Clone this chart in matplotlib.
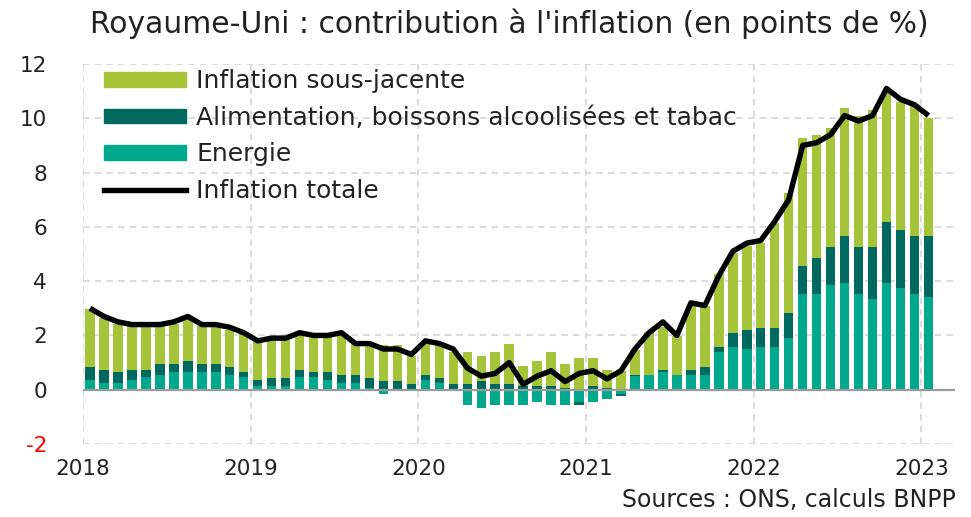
#!/usr/bin/env python3
"""
Royaume-Uni : contribution à l'inflation (en points de %)

Stacked monthly contributions (energie, alimentation, sous-jacente) with
total CPI inflation drawn on top, Jan 2018 - Jan 2023.
"""

from __future__ import annotations

import matplotlib
matplotlib.use("Agg")
import matplotlib.pyplot as plt
import numpy as np
from matplotlib.patches import Patch
from matplotlib.lines import Line2D

# --- data (points de %), one value per month from Jan 2018 to Jan 2023 ---
energie = [
    0.37, 0.26, 0.26, 0.37, 0.46, 0.56, 0.66, 0.66, 0.66, 0.66, 0.55, 0.46,
    0.13, 0.13, 0.13, 0.46, 0.46, 0.34, 0.24, 0.24, 0.06, -0.15, -0.05, -0.05,
    0.37, 0.24, 0.00, -0.55, -0.66, -0.55, -0.55, -0.55, -0.45, -0.55, -0.55, -0.45,
    -0.45, -0.35, -0.15, 0.49, 0.56, 0.67, 0.55, 0.55, 0.55, 1.39, 1.59, 1.50,
    1.59, 1.59, 1.90, 3.54, 3.54, 3.85, 3.94, 3.54, 3.33, 3.94, 3.74, 3.54,
    3.43,
]
alimentation = [
    0.48, 0.48, 0.39, 0.37, 0.28, 0.39, 0.29, 0.40, 0.29, 0.29, 0.30, 0.19,
    0.21, 0.31, 0.31, 0.28, 0.19, 0.31, 0.31, 0.31, 0.38, 0.32, 0.32, 0.22,
    0.18, 0.20, 0.22, 0.22, 0.32, 0.22, 0.22, 0.13, 0.13, 0.13, 0.06, -0.10,
    0.13, 0.06, -0.08, 0.07, -0.05, 0.07, -0.06, 0.19, 0.29, 0.20, 0.51, 0.70,
    0.69, 0.69, 0.91, 1.00, 1.30, 1.40, 1.74, 1.71, 1.92, 2.24, 2.13, 2.14,
    2.25,
]
sous_jacente = [
    2.12, 1.92, 1.77, 1.59, 1.68, 1.47, 1.47, 1.60, 1.41, 1.38, 1.35, 1.43,
    1.46, 1.34, 1.45, 1.34, 1.34, 1.28, 1.44, 1.20, 1.24, 1.34, 1.34, 1.04,
    1.15, 1.26, 1.16, 1.16, 0.94, 1.16, 1.46, 0.74, 0.94, 1.25, 0.89, 1.17,
    1.04, 0.68, 0.68, 0.92, 1.55, 1.58, 1.44, 2.35, 2.25, 2.66, 2.94, 3.09,
    3.13, 3.86, 4.43, 4.72, 4.53, 4.41, 4.71, 4.82, 5.04, 4.78, 4.73, 4.86,
    4.34,
]
inflation_totale = [
    3.0, 2.7, 2.5, 2.4, 2.4, 2.4, 2.5, 2.7, 2.4, 2.4, 2.3, 2.1,
    1.8, 1.9, 1.9, 2.1, 2.0, 2.0, 2.1, 1.7, 1.7, 1.5, 1.5, 1.3,
    1.8, 1.7, 1.5, 0.8, 0.5, 0.6, 1.0, 0.2, 0.5, 0.7, 0.3, 0.6,
    0.7, 0.4, 0.7, 1.5, 2.1, 2.5, 2.0, 3.2, 3.1, 4.2, 5.1, 5.4,
    5.5, 6.2, 7.0, 9.0, 9.1, 9.4, 10.1, 9.9, 10.1, 11.1, 10.7, 10.5,
    10.1,
]
annees = ["2018", "2019", "2020", "2021", "2022", "2023"]
y_ticks = [-2, 0, 2, 4, 6, 8, 10, 12]

series_labels = [
    "Inflation sous-jacente",
    "Alimentation, boissons alcoolisées et tabac",
    "Energie",
    "Inflation totale",
]

C_CORE = "#a5c43a"
C_FOOD = "#00695f"
C_ENER = "#00a98e"
TXT = "#222222"


def draw(out_path: str) -> None:
    plt.rcParams["font.family"] = ["DejaVu Sans"]

    fig = plt.figure(figsize=(9.71, 5.17), dpi=100)
    ax = fig.add_axes([0.0855, 0.1412, 0.898, 0.735])

    n = len(energie)
    x = np.arange(n) + 0.5  # bars centred in each month
    width = 0.68

    # stack positives upward and negatives downward, Excel-style
    pos = np.zeros(n)
    neg = np.zeros(n)
    for vals, col in [(energie, C_ENER), (alimentation, C_FOOD),
                      (sous_jacente, C_CORE)]:
        v = np.asarray(vals, dtype=float)
        bottom = np.where(v >= 0, pos, neg)
        ax.bar(x, v, width=width, bottom=bottom, color=col,
               linewidth=0, zorder=2)
        pos = pos + np.clip(v, 0, None)
        neg = neg + np.clip(v, None, 0)

    ax.plot(x, inflation_totale, color="black", linewidth=3.9,
            solid_joinstyle="round", solid_capstyle="butt", zorder=4)

    ax.axhline(0, color="#9b9b9b", linewidth=1.6, zorder=3)

    # axes
    ax.set_xlim(0, 62.4)
    ax.set_ylim(-2, 12)
    ax.set_xticks(np.arange(len(annees)) * 12)
    ax.set_xticklabels(annees, fontsize=15.5, color=TXT)
    ax.set_yticks(y_ticks)
    ax.set_yticklabels([str(t) for t in y_ticks], fontsize=15.5, color=TXT)
    ax.get_yticklabels()[0].set_color("red")
    ax.tick_params(length=0)
    ax.tick_params(axis="y", pad=26)
    ax.tick_params(axis="x", pad=11)

    for s in ax.spines.values():
        s.set_visible(False)
    ax.grid(True, color="#d6d6d6", linestyle=(0, (4, 3)), linewidth=1.2,
            zorder=0)
    ax.set_axisbelow(True)

    # legend
    handles = [
        Patch(color=C_CORE),
        Patch(color=C_FOOD),
        Patch(color=C_ENER),
        Line2D([], [], color="black", linewidth=3.9),
    ]
    ax.legend(handles, series_labels, loc="upper left",
              bbox_to_anchor=(-0.002, 1.045), frameon=False, fontsize=18,
              handlelength=3.3, handleheight=0.5, handletextpad=0.4,
              labelspacing=0.5, labelcolor=TXT)

    fig.text(0.525, 0.955, "Royaume-Uni : contribution à l'inflation (en points de %)",
             ha="center", va="center", fontsize=21.4, color=TXT)
    fig.text(0.984, 0.032, "Sources : ONS, calculs BNPP",
             ha="right", va="center", fontsize=17, color=TXT)

    fig.savefig(out_path, dpi=100)
    plt.close(fig)


def main() -> None:
    draw("out.png")


if __name__ == "__main__":
    main()
